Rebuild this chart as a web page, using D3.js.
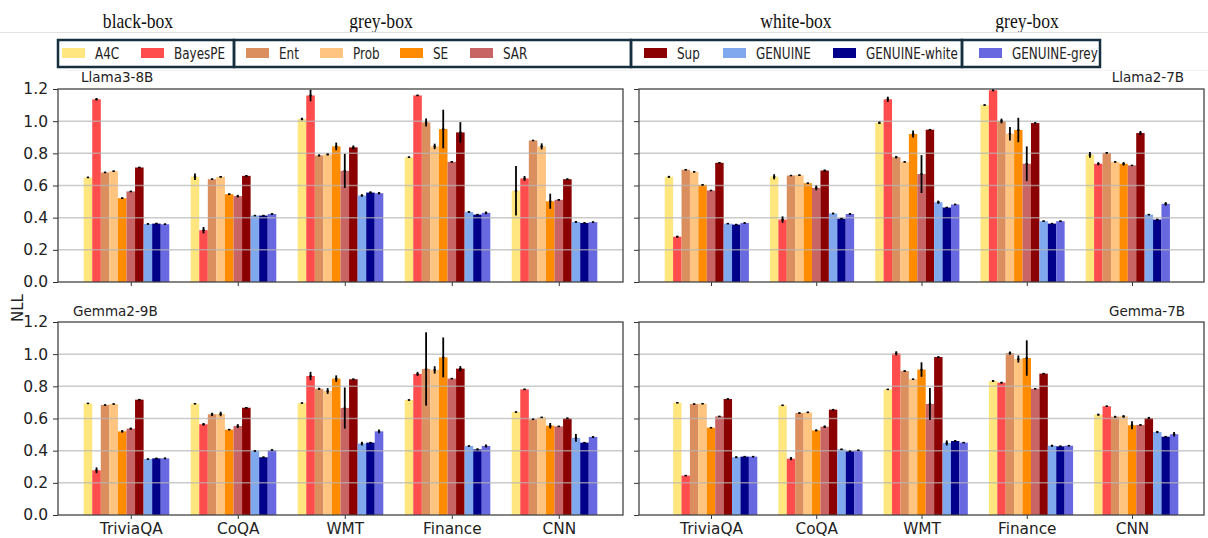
<!DOCTYPE html>
<html>
<head>
<meta charset="utf-8">
<script src="https://cdn.jsdelivr.net/npm/d3@7"></script>
<style>
  body { margin: 0; background: #fff; }
  svg { display: block; font-family: "DejaVu Sans", sans-serif; }
</style>
</head>
<body>
<div id="chart"></div>
<script>
// categories and methods
const datasets = ["TriviaQA", "CoQA", "WMT", "Finance", "CNN"];
const methods = ["A4C", "BayesPE", "Ent", "Prob", "SE", "SAR", "Sup", "GENUINE", "GENUINE-white", "GENUINE-grey"];
const colors = ["#ffe67f", "#ff4c4c", "#db8f5f", "#ffc47f", "#ff8c00", "#c86464", "#8b0000", "#7fa8ee", "#00008b", "#6868e0"];
const yTicks = [0.0, 0.2, 0.4, 0.6, 0.8, 1.0, 1.2];

// legend groups (boxes) and header labels above them
const legendGroups = [[0, 1], [2, 3, 4, 5], [6, 7, 8], [9]];
const groupLabels = ["black-box", "grey-box", "white-box", "grey-box"];

// NLL per dataset (rows) and method (columns)
const llama3Vals = [
    [0.650, 1.136, 0.681, 0.689, 0.521, 0.563, 0.712, 0.361, 0.363, 0.359],
    [0.654, 0.322, 0.639, 0.654, 0.546, 0.534, 0.660, 0.413, 0.413, 0.423],
    [1.013, 1.160, 0.787, 0.793, 0.843, 0.691, 0.837, 0.538, 0.556, 0.552],
    [0.776, 1.160, 0.992, 0.843, 0.951, 0.747, 0.930, 0.436, 0.419, 0.430],
    [0.567, 0.644, 0.880, 0.843, 0.502, 0.511, 0.639, 0.374, 0.367, 0.372]
];
const llama3Err = [
    [0.004, 0.008, 0.004, 0.003, 0.005, 0.004, 0.004, 0.004, 0.005, 0.004],
    [0.020, 0.020, 0.004, 0.005, 0.004, 0.008, 0.004, 0.003, 0.003, 0.005],
    [0.008, 0.036, 0.006, 0.006, 0.024, 0.106, 0.012, 0.008, 0.008, 0.008],
    [0.004, 0.004, 0.025, 0.017, 0.120, 0.004, 0.064, 0.006, 0.004, 0.008],
    [0.154, 0.015, 0.003, 0.019, 0.047, 0.004, 0.004, 0.006, 0.004, 0.004]
];
const llama2Vals = [
    [0.654, 0.282, 0.698, 0.685, 0.604, 0.569, 0.741, 0.363, 0.357, 0.367],
    [0.654, 0.388, 0.662, 0.664, 0.614, 0.585, 0.693, 0.426, 0.394, 0.423],
    [0.990, 1.136, 0.776, 0.747, 0.920, 0.671, 0.947, 0.496, 0.463, 0.482],
    [1.100, 1.192, 1.001, 0.922, 0.945, 0.735, 0.988, 0.378, 0.363, 0.378],
    [0.791, 0.735, 0.803, 0.747, 0.735, 0.725, 0.926, 0.419, 0.388, 0.486]
];
const llama2Err = [
    [0.006, 0.006, 0.003, 0.003, 0.003, 0.003, 0.004, 0.003, 0.004, 0.003],
    [0.016, 0.020, 0.003, 0.004, 0.004, 0.015, 0.006, 0.004, 0.004, 0.006],
    [0.008, 0.016, 0.008, 0.004, 0.022, 0.118, 0.004, 0.010, 0.004, 0.004],
    [0.004, 0.006, 0.015, 0.042, 0.076, 0.108, 0.006, 0.004, 0.003, 0.004],
    [0.018, 0.010, 0.004, 0.004, 0.011, 0.003, 0.013, 0.004, 0.005, 0.011]
];
const gemma2Vals = [
    [0.694, 0.278, 0.684, 0.690, 0.520, 0.537, 0.717, 0.348, 0.352, 0.352],
    [0.692, 0.564, 0.626, 0.628, 0.531, 0.553, 0.667, 0.398, 0.359, 0.404],
    [0.696, 0.864, 0.785, 0.771, 0.848, 0.665, 0.844, 0.444, 0.450, 0.520],
    [0.715, 0.877, 0.908, 0.902, 0.980, 0.848, 0.910, 0.429, 0.408, 0.429],
    [0.640, 0.781, 0.595, 0.607, 0.555, 0.551, 0.601, 0.479, 0.450, 0.485]
];
const gemma2Err = [
    [0.003, 0.018, 0.003, 0.003, 0.008, 0.006, 0.004, 0.003, 0.003, 0.006],
    [0.004, 0.008, 0.010, 0.014, 0.004, 0.012, 0.004, 0.004, 0.004, 0.004],
    [0.003, 0.026, 0.006, 0.018, 0.020, 0.128, 0.004, 0.012, 0.004, 0.012],
    [0.003, 0.013, 0.228, 0.023, 0.124, 0.003, 0.016, 0.003, 0.006, 0.010],
    [0.004, 0.004, 0.003, 0.003, 0.017, 0.003, 0.004, 0.024, 0.004, 0.004]
];
const gemmaVals = [
    [0.698, 0.245, 0.690, 0.692, 0.543, 0.613, 0.721, 0.359, 0.363, 0.363],
    [0.682, 0.350, 0.634, 0.638, 0.526, 0.549, 0.655, 0.408, 0.396, 0.402],
    [0.781, 1.005, 0.895, 0.844, 0.904, 0.690, 0.982, 0.448, 0.460, 0.450],
    [0.833, 0.823, 1.007, 0.970, 0.976, 0.785, 0.879, 0.431, 0.427, 0.431],
    [0.624, 0.676, 0.611, 0.613, 0.558, 0.560, 0.603, 0.516, 0.487, 0.502]
];
const gemmaErr = [
    [0.003, 0.003, 0.003, 0.003, 0.003, 0.003, 0.004, 0.006, 0.004, 0.004],
    [0.003, 0.010, 0.004, 0.004, 0.006, 0.008, 0.003, 0.004, 0.003, 0.004],
    [0.003, 0.013, 0.004, 0.003, 0.045, 0.100, 0.004, 0.016, 0.006, 0.003],
    [0.006, 0.005, 0.010, 0.022, 0.110, 0.003, 0.003, 0.006, 0.004, 0.004],
    [0.006, 0.004, 0.006, 0.008, 0.025, 0.003, 0.007, 0.007, 0.003, 0.014]
];

const W = 1208, H = 538;
const svg = d3.select("#chart").append("svg")
    .attr("width", W)
    .attr("height", H);

// header labels + thin rule
const headerX = [138, 381, 796, 1027];
groupLabels.forEach((t, i) => {
    svg.append("text")
        .attr("transform", `translate(${headerX[i]},28) scale(0.8,1)`)
        .attr("text-anchor", "middle")
        .style("font-family", "'Liberation Serif', 'DejaVu Serif', serif")
        .style("font-size", "22px")
        .attr("fill", "#111")
        .text(t);
});
svg.append("line")
    .attr("x1", 0).attr("x2", W).attr("y1", 32.5).attr("y2", 32.5)
    .attr("stroke", "#e2e2e2").attr("stroke-width", 1);
svg.append("line")
    .attr("x1", 67).attr("x2", W).attr("y1", 70.5).attr("y2", 70.5)
    .attr("stroke", "#f2f2f2").attr("stroke-width", 1);

// legend
const swatchX = [62, 141, 246, 320, 400, 470, 644, 723, 833, 979];
const boxEdges = [58, 234, 631, 962, 1100];
legendGroups.forEach((g, gi) => {
    svg.append("rect")
        .attr("x", boxEdges[gi]).attr("y", 40)
        .attr("width", boxEdges[gi + 1] - boxEdges[gi]).attr("height", 27)
        .attr("fill", "none")
        .attr("stroke", "#17303f")
        .attr("stroke-width", 2.5);
    g.forEach(mi => {
        svg.append("rect")
            .attr("x", swatchX[mi]).attr("y", 48)
            .attr("width", 23).attr("height", 10)
            .attr("fill", colors[mi]);
        svg.append("text")
            .attr("transform", `translate(${swatchX[mi] + 33},58.5) scale(0.8,1)`)
            .style("font-size", "15px")
            .attr("fill", "#222")
            .text(methods[mi]);
    });
});

// panels
const panels = [
    { name: "Llama3-8B", vals: llama3Vals, err: llama3Err, x0: 58, x1: 623, y0: 89, y1: 282, shift: 5, dom: [-0.68, 4.6], labels: true, xlab: false, tx: 81, ty: 82, anchor: "start" },
    { name: "Llama2-7B", vals: llama2Vals, err: llama2Err, x0: 639, x1: 1204, y0: 89, y1: 282, shift: 5, dom: [-0.684, 4.684], labels: false, xlab: false, tx: 1184, ty: 82, anchor: "end" },
    { name: "Gemma2-9B", vals: gemma2Vals, err: gemma2Err, x0: 58, x1: 623, y0: 322, y1: 515, shift: 5, dom: [-0.68, 4.6], labels: true, xlab: true, tx: 73, ty: 316, anchor: "start" },
    { name: "Gemma-7B", vals: gemmaVals, err: gemmaErr, x0: 639, x1: 1204, y0: 322, y1: 515, shift: 4, dom: [-0.684, 4.684], labels: false, xlab: true, tx: 1185, ty: 316, anchor: "end" }
];

const bw = 0.08;

panels.forEach(p => {
    const x = d3.scaleLinear().domain(p.dom).range([p.x0, p.x1]);
    const y = d3.scaleLinear().domain([0, 1.2]).range([p.y1, p.y0]);
    const g = svg.append("g");

    // bars
    p.vals.forEach((row, di) => {
        row.forEach((v, mi) => {
            const cx = di + (mi - p.shift) * bw;
            g.append("rect")
                .attr("x", x(cx - bw / 2))
                .attr("y", y(v))
                .attr("width", x(cx + bw / 2) - x(cx - bw / 2))
                .attr("height", y(0) - y(v))
                .attr("fill", colors[mi]);
        });
    });

    // gridlines (drawn over bars, translucent)
    g.selectAll(".grid")
        .data(yTicks.filter(t => t > 0 && t < 1.2))
        .enter().append("line")
        .attr("x1", p.x0).attr("x2", p.x1)
        .attr("y1", d => y(d)).attr("y2", d => y(d))
        .attr("stroke", "#b5b5b5")
        .attr("stroke-opacity", 0.7)
        .attr("stroke-width", 1.5);

    // error bars
    p.vals.forEach((row, di) => {
        row.forEach((v, mi) => {
            const cx = x(di + (mi - p.shift) * bw);
            const e = p.err[di][mi];
            g.append("line")
                .attr("x1", cx).attr("x2", cx)
                .attr("y1", y(v - e)).attr("y2", y(v + e))
                .attr("stroke", "#000")
                .attr("stroke-width", 1.8);
            g.append("line")
                .attr("x1", cx - 1.2).attr("x2", cx + 1.2)
                .attr("y1", y(v)).attr("y2", y(v))
                .attr("stroke", "#000")
                .attr("stroke-width", 1.5);
        });
    });

    // axes
    const yAxis = d3.axisLeft(y).tickValues(yTicks).tickSize(5).tickSizeOuter(0)
        .tickFormat(p.labels ? d3.format(".1f") : "");
    const ya = g.append("g").attr("transform", `translate(${p.x0},0)`).call(yAxis);
    ya.attr("font-family", null).attr("font-size", null);
    ya.select(".domain").remove();
    ya.selectAll("line").attr("stroke", "#333").attr("stroke-width", 1);
    ya.selectAll("text")
        .style("font-family", "'DejaVu Sans', sans-serif")
        .style("font-size", "15.5px")
        .attr("fill", "#222")
        .attr("dx", "-2px");

    const xAxis = d3.axisBottom(x).tickValues(d3.range(datasets.length)).tickSize(4).tickSizeOuter(0)
        .tickFormat(p.xlab ? (d => datasets[d]) : "");
    const xa = g.append("g").attr("transform", `translate(0,${p.y1})`).call(xAxis);
    xa.attr("font-family", null).attr("font-size", null);
    xa.select(".domain").remove();
    xa.selectAll("line").attr("stroke", "#333").attr("stroke-width", 1);
    xa.selectAll("text")
        .style("font-family", "'DejaVu Sans', sans-serif")
        .style("font-size", "15.3px")
        .attr("fill", "#222")
        .attr("y", 8)
        .attr("dy", "0.75em");

    // frame
    g.append("rect")
        .attr("x", p.x0).attr("y", p.y0)
        .attr("width", p.x1 - p.x0).attr("height", p.y1 - p.y0)
        .attr("fill", "none")
        .attr("stroke", "#444")
        .attr("stroke-width", 1.3);

    // model name
    g.append("text")
        .attr("x", p.tx).attr("y", p.ty)
        .attr("text-anchor", p.anchor)
        .style("font-size", "13.5px")
        .attr("fill", "#222")
        .text(p.name);
});

// y label
svg.append("text")
    .attr("transform", "translate(23,308) rotate(-90)")
    .attr("text-anchor", "middle")
    .style("font-size", "15px")
    .attr("fill", "#222")
    .text("NLL");
</script>
</body>
</html>
